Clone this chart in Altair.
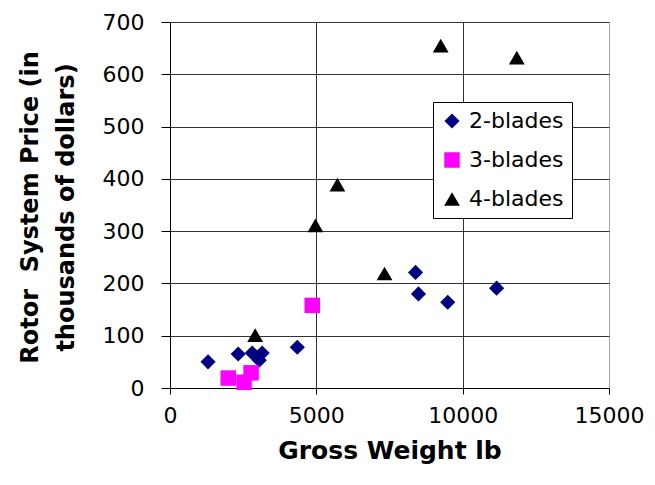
import altair as alt
import pandas as pd

# Series names and styling keys
series_names = ["2-blades", "3-blades", "4-blades"]
series_colors = ["#000080", "#FF00FF", "#000000"]
series_shapes = ["diamond", "square", "triangle-up"]
series_sizes = [230, 250, 300]

# Gross weight (lb) and rotor system price (thousands of dollars) per series
weight_2 = [1300, 2330, 2810, 3150, 3050, 4350, 8390, 8490, 9490, 11160]
price_2 = [50, 65, 67, 67, 53, 78, 221, 180, 164, 191]

weight_3 = [1990, 2530, 2770, 4860]
price_3 = [19, 11, 29, 158]

weight_4 = [2910, 4970, 5720, 7330, 9250, 11850]
price_4 = [101, 311, 389, 219, 655, 632]

x_ticks = [0, 5000, 10000, 15000]
y_ticks = [0, 100, 200, 300, 400, 500, 600, 700]

rows = []
for name, ws, ps in zip(series_names, [weight_2, weight_3, weight_4], [price_2, price_3, price_4]):
    for w, p in zip(ws, ps):
        rows.append({"series": name, "weight": w, "price": p})
df = pd.DataFrame(rows)

FONT = "DejaVu Sans"
GRID = "#333333"
BORDER = "#a6a6a6"

x_axis = alt.Axis(
    values=x_ticks,
    format="d",
    title="Gross Weight lb",
    grid=True,
    gridColor={"condition": {"test": "datum.value >= 15000", "value": BORDER}, "value": GRID},
    gridWidth=1,
    domainColor="#000000",
    tickColor="#000000",
    tickSize=6,
    labelPadding=11,
    labelBaseline="top",
    labelFlush=False,
    labelFont=FONT,
    labelFontSize=22,
    labelColor="#000000",
    titleFont=FONT,
    titleFontSize=25,
    titleFontWeight="bold",
    titleColor="#000000",
    titleX=219.5,
    titleY=70,
    titleAlign="center",
    titleBaseline="alphabetic",
)

y_axis = alt.Axis(
    values=y_ticks,
    title=["Rotor\u00a0 System Price (in", "thousands of dollars)"],
    grid=True,
    gridColor=GRID,
    gridWidth=1,
    domainColor="#000000",
    tickColor="#000000",
    tickSize=9,
    labelPadding=17,
    labelBaseline="middle",
    labelAlign="right",
    labelFont=FONT,
    labelFontSize=22,
    labelColor="#000000",
    titleFont=FONT,
    titleFontSize=24,
    titleFontWeight="bold",
    titleColor="#000000",
    titleAngle=270,
    titleX=-133,
    titleY=185,
    titleAlign="center",
    titleBaseline="alphabetic",
    titleLineHeight=36,
)

legend = alt.Legend(
    title=None,
    orient="none",
    legendX=263,
    legendY=80,
    fillColor="#ffffff",
    strokeColor="#000000",
    padding=8,
    rowPadding=17,
    labelFont=FONT,
    labelFontSize=22,
    labelColor="#000000",
    labelOffset=6,
    symbolStrokeWidth=0,
    cornerRadius=0,
)

chart = (
    alt.Chart(df)
    .mark_point(filled=True, opacity=1, strokeWidth=0)
    .encode(
        x=alt.X("weight:Q", scale=alt.Scale(domain=[0, 15000], nice=False, zero=True), axis=x_axis),
        y=alt.Y("price:Q", scale=alt.Scale(domain=[0, 700], nice=False, zero=True), axis=y_axis),
        color=alt.Color("series:N", scale=alt.Scale(domain=series_names, range=series_colors), legend=legend),
        shape=alt.Shape("series:N", scale=alt.Scale(domain=series_names, range=series_shapes), legend=legend),
        size=alt.Size("series:N", scale=alt.Scale(domain=series_names, range=series_sizes), legend=legend),
    )
    .properties(
        width=439,
        height=366,
        autosize=alt.AutoSizeParams(type="none"),
        padding={"left": 170, "top": 22, "right": 46, "bottom": 97},
        background="#ffffff",
    )
    .configure_view(stroke=BORDER, strokeWidth=1)
    .configure_legend(strokeWidth=1)
)

chart.save("out.html", embed_options={"renderer": "svg", "actions": False})
